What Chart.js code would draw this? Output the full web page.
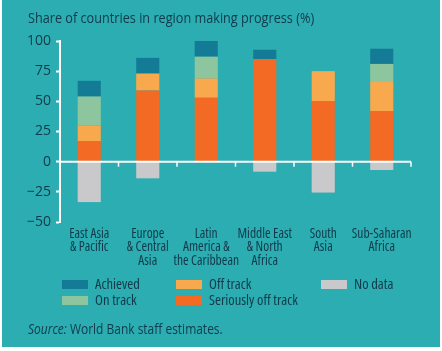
<!DOCTYPE html>
<html><head><meta charset="utf-8">
<script src="https://cdn.jsdelivr.net/npm/chart.js@4/dist/chart.umd.min.js"></script>
<style>
html,body{margin:0;padding:0;background:#fff;width:442px;height:351px;overflow:hidden}
#box{position:absolute;left:2px;top:0;width:438px;height:347px;background:#2badb1}
#wrap{position:absolute;left:0;top:0;width:442px;height:351px}
.t{position:absolute;color:#123a4c;font-family:"Open Sans",sans-serif;white-space:nowrap;line-height:18px;transform-origin:0 50%}
#title{left:28px;top:8px;font-size:15px;transform:scaleX(0.845)}
#src{left:28px;top:320px;font-size:14px;transform:scaleX(0.855)}
.sw{position:absolute;width:26px;height:9px}
.lt{position:absolute;color:#123a4c;font-family:"Open Sans",sans-serif;font-stretch:87.5%;font-size:14.5px;white-space:nowrap;line-height:16px}
</style></head>
<body>
<div id="box"></div>
<div id="wrap"><canvas id="c" width="442" height="351"></canvas></div>
<div class="t" id="title">Share of countries in region making progress (%)</div>
<div id="legend"></div>
<div class="t" id="src"><i>Source:</i> World Bank staff estimates.</div>
<script>
const categories = [["East Asia","& Pacific"],["Europe","& Central","Asia"],["Latin","America &","the Caribbean"],["Middle East","& North","Africa"],["South","Asia"],["Sub-Saharan","Africa"]];
const seriouslyOffTrack = [17, 59, 53, 85, 50, 42];
const offTrack = [13, 14, 16, 0, 25, 24];
const onTrack = [24, 0, 18, 0, 0, 15];
const achieved = [13, 13, 13, 7.7, 0, 12.6];
const noData = [-33.5, -13.8, 0, -8.3, -25.6, -6.9];
const yTicks = [-50, -25, 0, 25, 50, 75, 100];

const TXT = '#123a4c';
const FAMILY = '"Open Sans", sans-serif';
const STRETCH = 'semi-condensed';

const datasets = [
  {label:'Seriously off track', data:seriouslyOffTrack, backgroundColor:'#f26a24'},
  {label:'Off track', data:offTrack, backgroundColor:'#f8a94d'},
  {label:'On track', data:onTrack, backgroundColor:'#8dc69e'},
  {label:'Achieved', data:achieved, backgroundColor:'#137b95'},
  {label:'No data', data:noData, backgroundColor:'#c9c9cc'}
];
datasets.forEach(d=>{d.barPercentage=0.395;d.categoryPercentage=1;d.borderWidth=0;});

const axisTicks = {
  id:'axisTicks',
  afterDraw(chart){
    const x=chart.scales.x, y=chart.scales.y, ctx=chart.ctx;
    const y0=y.getPixelForValue(0);
    ctx.save();
    ctx.strokeStyle='#ffffff';
    ctx.lineWidth=2;
    ctx.beginPath();
    ctx.moveTo(chart.chartArea.left,y0);ctx.lineTo(chart.chartArea.right,y0);
    ctx.stroke();
    ctx.lineWidth=1.5;
    for(let i=0;i<categories.length;i++){
      const px = x.getPixelForValue(i+0.5);
      ctx.beginPath();ctx.moveTo(px,y0);ctx.lineTo(px,y0+5);ctx.stroke();
    }
    ctx.restore();
  }
};

const chart = new Chart(document.getElementById('c'),{
  type:'bar',
  data:{labels:categories, datasets},
  options:{
    responsive:false, animation:false,
    layout:{padding:{left:0,right:31,top:41,bottom:79}},
    plugins:{legend:{display:false},tooltip:{enabled:false}},
    scales:{
      x:{stacked:true, grid:{display:false,drawTicks:false}, border:{display:false},
        ticks:{color:TXT,font:{family:FAMILY,size:13.5,weight:STRETCH,lineHeight:0.97},padding:6,autoSkip:false,maxRotation:0},
        afterFit(s){s.height=50;}
      },
      y:{stacked:true, min:-50, max:100,
        afterBuildTicks(s){s.ticks=yTicks.map(v=>({value:v}));},
        ticks:{color:TXT,font:{family:FAMILY,size:14},padding:5,
          callback:v=>String(v).replace('-','\u2212')},
        grid:{drawOnChartArea:false,color:'#ffffff',tickLength:4,tickWidth:2},
        border:{color:'#ffffff',width:2},
        afterFit(s){s.width=60;}
      }
    }
  },
  plugins:[axisTicks]
});

// HTML legend built from datasets
const legendOrder = [['Achieved',62,280],['On track',62,296],['Off track',176,280],['Seriously off track',176,296],['No data',321,280]];
const lg=document.getElementById('legend');
legendOrder.forEach(([name,x,y])=>{
  const ds=chart.data.datasets.find(d=>d.label===name);
  const s=document.createElement('div');s.className='sw';s.style.left=x+'px';s.style.top=y+'px';s.style.background=ds.backgroundColor;lg.appendChild(s);
  const t=document.createElement('div');t.className='lt';t.textContent=name;t.style.left=(x+33)+'px';t.style.top=(y-4)+'px';lg.appendChild(t);
});
</script>
</body></html>
